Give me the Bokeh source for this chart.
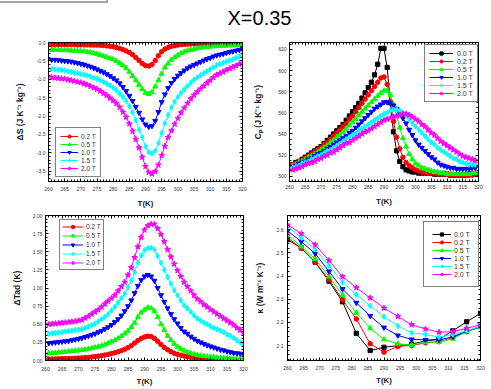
from bokeh.plotting import figure
from bokeh.layouts import column, row
from bokeh.models import (Range1d, LinearAxis, FixedTicker, PrintfTickFormatter,
                          Label, Div)
from bokeh.embed import file_html
from bokeh.resources import INLINE

# ---------------- data ----------------
T_ds = list(range(261, 321))      # temperatures for dS and dTad (K)
T_cp = list(range(261, 320))      # temperatures for Cp (K)
T_k = [260.0, 264.3, 268.6, 272.9, 277.1, 281.4, 285.7, 290.0,
       294.3, 298.6, 302.9, 307.1, 311.4, 315.7, 320.0]

labels5 = ["0.2 T", "0.5 T", "1.0 T", "1.5 T", "2.0 T"]
labels6 = ["0.0 T", "0.2 T", "0.5 T", "1.0 T", "1.5 T", "2.0 T"]
title_text = "X=0.35"

# magnetic entropy change  dS (J K-1 kg-1)
dS_02 = [-0.060, -0.060, -0.060, -0.060, -0.060, -0.060, -0.060, -0.060, -0.065, -0.065,
         -0.065, -0.065, -0.070, -0.070, -0.070, -0.075, -0.080, -0.090, -0.100, -0.115,
         -0.135, -0.160, -0.190, -0.230, -0.270, -0.330, -0.410, -0.490, -0.570, -0.630,
         -0.640, -0.600, -0.490, -0.360, -0.250, -0.180, -0.135, -0.105, -0.085, -0.070,
         -0.055, -0.050, -0.045, -0.040, -0.035, -0.030, -0.030, -0.030, -0.030, -0.030,
         -0.025, -0.025, -0.025, -0.025, -0.025, -0.020, -0.020, -0.020, -0.020, -0.020]
dS_05 = [-0.200, -0.200, -0.200, -0.210, -0.210, -0.215, -0.220, -0.225, -0.230, -0.235,
         -0.245, -0.255, -0.270, -0.290, -0.310, -0.340, -0.370, -0.400, -0.430, -0.460,
         -0.510, -0.560, -0.620, -0.700, -0.800, -0.910, -1.030, -1.150, -1.270, -1.370,
         -1.400, -1.350, -1.200, -1.030, -0.850, -0.680, -0.570, -0.470, -0.400, -0.340,
         -0.290, -0.250, -0.220, -0.200, -0.180, -0.160, -0.145, -0.130, -0.120, -0.110,
         -0.105, -0.100, -0.095, -0.090, -0.085, -0.080, -0.080, -0.075, -0.070, -0.070]
dS_10 = [-0.47, -0.47, -0.48, -0.49, -0.50, -0.51, -0.52, -0.54, -0.56, -0.58,
         -0.60, -0.63, -0.66, -0.69, -0.73, -0.77, -0.81, -0.86, -0.91, -0.97,
         -1.03, -1.11, -1.21, -1.32, -1.45, -1.59, -1.75, -1.91, -2.09, -2.23,
         -2.29, -2.27, -2.13, -1.89, -1.62, -1.41, -1.24, -1.10, -0.99, -0.90,
         -0.83, -0.76, -0.70, -0.65, -0.61, -0.57, -0.53, -0.49, -0.45, -0.42,
         -0.38, -0.35, -0.33, -0.31, -0.28, -0.26, -0.24, -0.22, -0.20, -0.18]
dS_15 = [-0.72, -0.73, -0.74, -0.75, -0.76, -0.78, -0.80, -0.82, -0.84, -0.86,
         -0.88, -0.90, -0.93, -0.96, -0.99, -1.03, -1.07, -1.12, -1.17, -1.23,
         -1.30, -1.39, -1.48, -1.59, -1.73, -1.90, -2.12, -2.37, -2.58, -2.83,
         -2.98, -3.01, -2.95, -2.74, -2.46, -2.20, -1.97, -1.77, -1.61, -1.48,
         -1.37, -1.27, -1.18, -1.09, -1.01, -0.95, -0.89, -0.84, -0.78, -0.73,
         -0.68, -0.62, -0.59, -0.56, -0.52, -0.49, -0.46, -0.42, -0.38, -0.35]
dS_20 = [-0.95, -0.96, -0.97, -0.98, -0.99, -1.01, -1.03, -1.05, -1.07, -1.09,
         -1.12, -1.15, -1.19, -1.23, -1.27, -1.32, -1.38, -1.44, -1.51, -1.58,
         -1.66, -1.76, -1.89, -2.03, -2.21, -2.41, -2.63, -2.86, -3.12, -3.37,
         -3.53, -3.57, -3.51, -3.33, -3.07, -2.82, -2.58, -2.40, -2.22, -2.06,
         -1.91, -1.78, -1.65, -1.53, -1.43, -1.34, -1.26, -1.18, -1.10, -1.03,
         -0.95, -0.88, -0.84, -0.80, -0.75, -0.71, -0.67, -0.63, -0.59, -0.56]

# specific heat  Cp (J K-1 kg-1)
cp_00 = [511, 513, 514, 516, 518, 520, 522, 524, 526, 528,
         531, 534, 537, 540, 543, 546, 549, 553, 557, 561,
         565, 569, 574, 579, 584, 589, 596, 606, 621, 621,
         603, 570, 542, 524, 514, 509, 506, 505, 504, 504,
         503, 503, 503, 503, 503, 502, 502, 502, 502, 502,
         501, 501, 501, 501, 501, 501, 502, 502, 502]
cp_02 = [511, 512, 514, 515, 517, 519, 521, 523, 525, 527,
         530, 532, 535, 538, 541, 544, 547, 550, 554, 557,
         561, 565, 569, 573, 577, 581, 585, 589, 593, 594,
         587, 570, 552, 537, 526, 518, 513, 510, 508, 506,
         505, 504, 504, 503, 503, 503, 502, 502, 502, 502,
         501, 501, 501, 501, 501, 501, 501, 501, 502]
cp_05 = [510, 511, 513, 514, 516, 518, 519, 521, 523, 525,
         527, 529, 532, 534, 537, 539, 542, 545, 548, 551,
         554, 558, 561, 564, 567, 570, 573, 576, 579, 581,
         581, 577, 568, 557, 546, 536, 528, 521, 516, 512,
         510, 508, 507, 506, 505, 504, 504, 503, 503, 502,
         502, 502, 502, 502, 502, 502, 502, 503, 503]
cp_10 = [509, 510, 512, 513, 514, 516, 517, 519, 521, 522,
         524, 526, 528, 530, 532, 534, 536, 538, 541, 543,
         546, 549, 552, 555, 558, 561, 564, 566, 568, 570,
         570, 569, 567, 564, 560, 555, 550, 544, 539, 534,
         530, 527, 524, 521, 518, 516, 513, 511, 510, 509,
         508, 508, 507, 507, 507, 507, 507, 508, 508]
cp_15 = [508, 509, 510, 512, 513, 514, 516, 517, 519, 520,
         522, 524, 525, 527, 529, 531, 533, 535, 537, 539,
         541, 543, 545, 547, 549, 551, 553, 555, 557, 559,
         560, 562, 563, 563, 562, 560, 557, 554, 550, 547,
         544, 541, 538, 535, 532, 530, 527, 525, 523, 521,
         519, 517, 516, 514, 513, 512, 511, 511, 511]
cp_20 = [506, 507, 508, 509, 511, 512, 513, 514, 516, 517,
         519, 520, 522, 523, 525, 527, 529, 531, 532, 534,
         536, 538, 540, 542, 543, 545, 547, 549, 551, 553,
         554, 555, 556, 557, 558, 559, 559, 558, 556, 554,
         552, 549, 547, 544, 541, 539, 536, 533, 531, 529,
         527, 525, 523, 521, 519, 518, 517, 516, 515]

# adiabatic temperature change  dTad (K)
dT_02 = [0.020, 0.020, 0.022, 0.024, 0.025, 0.026, 0.027, 0.029, 0.031, 0.033,
         0.036, 0.039, 0.043, 0.048, 0.054, 0.060, 0.067, 0.075, 0.084, 0.095,
         0.107, 0.120, 0.136, 0.155, 0.178, 0.205, 0.240, 0.275, 0.305, 0.325,
         0.335, 0.330, 0.305, 0.265, 0.220, 0.180, 0.148, 0.122, 0.100, 0.085,
         0.072, 0.062, 0.053, 0.045, 0.038, 0.032, 0.027, 0.023, 0.020, 0.017,
         0.015, 0.013, 0.011, 0.010, 0.009, 0.008, 0.007, 0.006, 0.005, 0.005]
dT_05 = [0.100, 0.100, 0.105, 0.110, 0.115, 0.120, 0.125, 0.130, 0.135, 0.140,
         0.145, 0.150, 0.160, 0.170, 0.180, 0.190, 0.205, 0.220, 0.240, 0.260,
         0.280, 0.305, 0.335, 0.370, 0.410, 0.460, 0.520, 0.600, 0.660, 0.700,
         0.730, 0.720, 0.680, 0.600, 0.500, 0.420, 0.340, 0.280, 0.230, 0.190,
         0.160, 0.135, 0.115, 0.100, 0.087, 0.076, 0.068, 0.060, 0.055, 0.050,
         0.045, 0.041, 0.038, 0.035, 0.030, 0.027, 0.025, 0.022, 0.020, 0.018]
dT_10 = [0.240, 0.245, 0.250, 0.255, 0.260, 0.265, 0.270, 0.280, 0.290, 0.300,
         0.310, 0.325, 0.340, 0.355, 0.370, 0.390, 0.410, 0.435, 0.460, 0.490,
         0.530, 0.570, 0.620, 0.680, 0.750, 0.830, 0.930, 1.030, 1.110, 1.160,
         1.180, 1.160, 1.100, 1.000, 0.900, 0.810, 0.720, 0.640, 0.570, 0.510,
         0.450, 0.400, 0.370, 0.330, 0.300, 0.270, 0.250, 0.230, 0.210, 0.195,
         0.180, 0.165, 0.150, 0.140, 0.125, 0.115, 0.105, 0.100, 0.095, 0.090]
dT_15 = [0.370, 0.375, 0.380, 0.385, 0.390, 0.400, 0.405, 0.410, 0.420, 0.425,
         0.430, 0.450, 0.470, 0.490, 0.510, 0.540, 0.570, 0.600, 0.640, 0.690,
         0.740, 0.800, 0.860, 0.920, 1.010, 1.100, 1.220, 1.350, 1.450, 1.520,
         1.550, 1.555, 1.530, 1.440, 1.350, 1.250, 1.150, 1.060, 0.970, 0.900,
         0.830, 0.760, 0.720, 0.670, 0.620, 0.580, 0.550, 0.520, 0.500, 0.470,
         0.450, 0.430, 0.410, 0.390, 0.360, 0.340, 0.310, 0.280, 0.250, 0.220]
dT_20 = [0.500, 0.505, 0.510, 0.515, 0.520, 0.525, 0.530, 0.535, 0.540, 0.550,
         0.560, 0.585, 0.610, 0.640, 0.670, 0.700, 0.740, 0.780, 0.820, 0.860,
         0.900, 0.960, 1.020, 1.080, 1.180, 1.280, 1.420, 1.570, 1.700, 1.800,
         1.860, 1.880, 1.880, 1.820, 1.740, 1.640, 1.530, 1.430, 1.330, 1.240,
         1.160, 1.080, 1.020, 0.960, 0.900, 0.850, 0.810, 0.770, 0.740, 0.700,
         0.670, 0.640, 0.610, 0.580, 0.550, 0.520, 0.490, 0.450, 0.420, 0.380]

# thermal conductivity  kappa (W m-1 K-1)
k_00 = [2.557, 2.521, 2.460, 2.378, 2.289, 2.153, 2.079, 2.093, 2.100, 2.107, 2.120, 2.128, 2.164, 2.203, 2.239]
k_02 = [2.565, 2.520, 2.460, 2.385, 2.298, 2.215, 2.108, 2.072, 2.097, 2.101, 2.112, 2.117, 2.135, 2.160, 2.185]
k_05 = [2.578, 2.527, 2.474, 2.398, 2.318, 2.242, 2.175, 2.127, 2.108, 2.103, 2.115, 2.115, 2.130, 2.160, 2.180]
k_10 = [2.595, 2.548, 2.497, 2.420, 2.344, 2.285, 2.228, 2.178, 2.144, 2.127, 2.125, 2.125, 2.138, 2.163, 2.180]
k_15 = [2.615, 2.565, 2.515, 2.445, 2.373, 2.320, 2.272, 2.225, 2.185, 2.155, 2.148, 2.137, 2.148, 2.165, 2.182]
k_20 = [2.620, 2.583, 2.535, 2.467, 2.397, 2.350, 2.306, 2.262, 2.226, 2.190, 2.172, 2.158, 2.160, 2.175, 2.190]

# ticks
x_major = [260, 265, 270, 275, 280, 285, 290, 295, 300, 305, 310, 315, 320]
dS_major = [-3.5, -3.0, -2.5, -2.0, -1.5, -1.0, -0.5, 0.0]
cp_major = [500, 520, 540, 560, 580, 600, 620]
dT_major = [0.0, 0.25, 0.5, 0.75, 1.0, 1.25, 1.5, 1.75, 2.0]
k_major = [2.1, 2.2, 2.3, 2.4, 2.5, 2.6]

# ---------------- style ----------------
FONT = "Liberation Sans"
COLORS = {"0.0 T": "#000000", "0.2 T": "#ff0000", "0.5 T": "#00ff00",
          "1.0 T": "#0000ff", "1.5 T": "#00ffff", "2.0 T": "#ff00ff"}
MARKERS = {"0.0 T": "square", "0.2 T": "circle", "0.5 T": "triangle",
           "1.0 T": "inverted_triangle", "1.5 T": "diamond", "2.0 T": "star"}
SIZES = {"0.0 T": 4.2, "0.2 T": 4.5, "0.5 T": 5, "1.0 T": 5, "1.5 T": 5.5, "2.0 T": 6}

x_minor = [260 + i for i in range(61)]


def minor_list(lo, hi, step):
    n = int(round((hi - lo) / step))
    return [round(lo + i * step, 4) for i in range(n + 1)]


def style_axis(ax, show, standoff):
    ax.major_tick_in = 3
    ax.major_tick_out = 0
    ax.minor_tick_in = 2
    ax.minor_tick_out = 0
    ax.major_tick_line_color = "black"
    ax.minor_tick_line_color = "black"
    ax.axis_line_color = "black"
    ax.major_label_text_font = FONT
    ax.major_label_standoff = standoff
    if show:
        ax.major_label_text_font_size = "5px"
        ax.major_label_text_color = "#333333"
    else:
        ax.major_label_text_font_size = "0px"
        ax.major_label_text_color = None


def set_label(ax, text, standoff, size):
    ax.axis_label = text
    ax.axis_label_text_font = FONT
    ax.axis_label_text_font_style = "bold"
    ax.axis_label_text_font_size = size
    ax.axis_label_text_color = "#1a1a1a"
    ax.axis_label_standoff = standoff


def make_panel(width, height, borders, yr, y_major, y_minor, y_fmt, y_label,
               y_lab_so, y_tick_so, x_tick_so, x_lab_so):
    l, r, t, b = borders
    p = figure(width=width, height=height, x_range=Range1d(260, 320),
               y_range=Range1d(*yr), output_backend="svg", toolbar_location=None,
               min_border_left=l, min_border_right=r,
               min_border_top=t, min_border_bottom=b)
    p.xgrid.visible = False
    p.ygrid.visible = False
    p.outline_line_color = "black"
    p.outline_line_width = 1
    p.background_fill_color = "white"
    p.border_fill_color = "white"
    xt = FixedTicker(ticks=x_major, minor_ticks=x_minor)
    yt = FixedTicker(ticks=y_major, minor_ticks=y_minor)
    bx = p.below[0]
    ly = p.left[0]
    bx.ticker = xt
    ly.ticker = yt
    bx.formatter = PrintfTickFormatter(format="%d")
    ly.formatter = PrintfTickFormatter(format=y_fmt)
    style_axis(bx, True, x_tick_so)
    style_axis(ly, True, y_tick_so)
    set_label(bx, "T(K)", x_lab_so, "8px")
    set_label(ly, y_label, y_lab_so, "8.5px")
    top = LinearAxis(ticker=xt)
    right = LinearAxis(ticker=yt)
    style_axis(top, False, 0)
    style_axis(right, False, 0)
    p.add_layout(top, "above")
    p.add_layout(right, "right")
    return p


def draw(p, T, series, labels):
    for vals, lab in zip(series, labels):
        c = COLORS[lab]
        p.line(T, vals, line_color=c, line_width=1, legend_label=lab)
        p.scatter(T, vals, marker=MARKERS[lab], size=SIZES[lab],
                  line_color=c, fill_color=c, legend_label=lab)


def style_legend(p, loc, pad, gw, gh, spacing, standoff, fsize):
    lg = p.legend[0]
    lg.location = loc
    lg.border_line_color = "black"
    lg.border_line_width = 1
    lg.background_fill_color = "white"
    lg.background_fill_alpha = 1
    lg.padding = pad
    lg.margin = 0
    lg.spacing = spacing
    lg.glyph_width = gw
    lg.glyph_height = gh
    lg.label_height = gh
    lg.label_width = 10
    lg.label_standoff = standoff
    lg.label_text_font = FONT
    lg.label_text_font_size = fsize
    lg.label_text_color = "#333333"


# ---------------- panels ----------------
p1 = make_panel(250, 182, (48, 8, 14, 25), (-3.78, 0.0), dS_major,
                minor_list(-3.8, 0.0, 0.1), "%.1f", "ΔS (J K⁻¹ kg⁻¹)",
                9, 3, 5, 5)
draw(p1, T_ds, [dS_02, dS_05, dS_10, dS_15, dS_20], labels5)
style_legend(p1, (7, 4), 4, 18, 8, 0, 3, "6.5px")

p2 = make_panel(241, 182, (38, 13, 14, 28), (495.0, 626.6), cp_major,
                minor_list(495, 625, 5), "%d", "Cₚ (J K⁻¹ kg⁻¹)",
                12, 3, 3, 5)
draw(p2, T_cp, [cp_00, cp_02, cp_05, cp_10, cp_15, cp_20], labels6)
style_legend(p2, (135, 79), 4, 24, 8, 0, 4, "7px")

p3 = make_panel(250, 179, (45, 7, 5, 26), (0.0, 2.0), dT_major,
                minor_list(0.0, 2.0, 0.05), "%.2f", "ΔTad (K)",
                8, 3, 6, 3)
draw(p3, T_ds, [dT_02, dT_05, dT_10, dT_15, dT_20], labels5)
style_legend(p3, (14, 90), 2, 21, 9, 0, 3, "6.5px")

p4 = make_panel(241, 179, (37, 11, 4, 29), (2.036, 2.661), k_major,
                minor_list(2.04, 2.66, 0.02), "%.1f", "κ (W m⁻¹ K⁻¹)",
                9, 4, 5, 3)
draw(p4, T_k, [k_00, k_02, k_05, k_10, k_15, k_20], labels6)
style_legend(p4, (136, 73), 8, 19, 8, 0, 3, "7px")

# formula fragment "O3" at the left edge, kept fully inside the page
p1.add_layout(Label(x=245.4, y=-0.21, text="O", text_align="left",
                    text_baseline="alphabetic", text_font="Liberation Serif",
                    text_font_size="22px", text_color="black"))
p1.add_layout(Label(x=250.3, y=-0.37, text="3", text_align="left",
                    text_baseline="alphabetic", text_font="Liberation Serif",
                    text_font_size="15px", text_color="black"))

# header strip: grey frame fragment and the composition title
header = Div(width=491, height=28, margin=0, text=(
    '<div style="position:relative;width:491px;height:28px;overflow:hidden;margin:0;padding:0;">'
    '<div style="position:absolute;left:-3px;top:-3px;width:111px;height:6px;'
    'border:2px solid #a8a8a8;background:#ffffff;"></div>'
    '<div style="position:absolute;left:0px;top:9px;width:519px;height:18px;text-align:center;'
    "font-family:'Liberation Sans',Arial,sans-serif;font-size:20px;line-height:18px;"
    'color:#000000;white-space:nowrap;">' + title_text + '</div></div>'))

layout = column(header, row(p1, p2), row(p3, p4))

open("out.html", "w").write(file_html(layout, INLINE))
